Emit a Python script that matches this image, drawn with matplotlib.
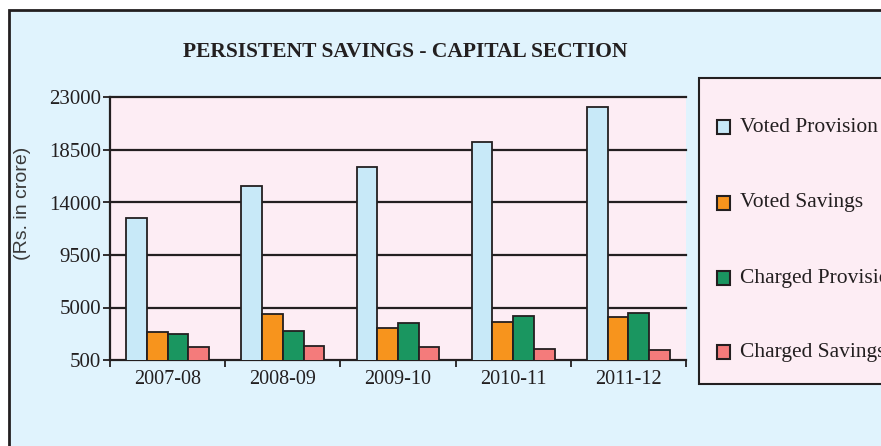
import numpy as np
import matplotlib.pyplot as plt
from matplotlib.patches import Rectangle

# values (Rs. in crore)
years = ['2007-08', '2008-09', '2009-10', '2010-11', '2011-12']
voted_provision = [12650, 15440, 17040, 19150, 22170]
voted_savings = [2920, 4460, 3260, 3750, 4150]
charged_provision = [2690, 2980, 3630, 4230, 4570]
charged_savings = [1610, 1660, 1580, 1410, 1320]
yticks = [500, 5000, 9500, 14000, 18500, 23000]

series = ['Voted Provision', 'Voted Savings', 'Charged Provision', 'Charged Savings']
colors = ['#c8e9f8', '#f7941d', '#1a9660', '#f47b7b']
dark = '#231f20'

plt.rcParams['font.family'] = ['Liberation Serif', 'DejaVu Serif']

fig = plt.figure(figsize=(8.81, 4.46), dpi=100)
fig.patch.set_facecolor('white')

# outer light-blue frame (runs off the right and bottom edges)
W, H = 881, 446
fig.patches.append(Rectangle((9 / W, -0.05), 1.1, 1 - 10 / H + 0.05,
                             transform=fig.transFigure, facecolor='#e0f3fd',
                             edgecolor=dark, linewidth=2, zorder=-2))

# legend box
fig.patches.append(Rectangle((699 / W, 1 - 384 / H), 0.4, (384 - 78) / H,
                             transform=fig.transFigure, facecolor='#fdedf4',
                             edgecolor=dark, linewidth=1.5, zorder=-1))

ax = fig.add_axes([110 / W, 1 - 360 / H, (686 - 110) / W, (360 - 97.5) / H])
ax.set_zorder(1)
ax.set_facecolor('#fdedf4')

x = np.arange(len(years))
w = 0.18
data = [voted_provision, voted_savings, charged_provision, charged_savings]
for i, (vals, c) in enumerate(zip(data, colors)):
    ax.bar(x + (i - 1.5) * w, vals, width=w, color=c, edgecolor=dark,
           linewidth=1.3, zorder=3)

ax.set_xlim(-0.5, len(years) - 0.5)
ax.set_ylim(500, 23000)
ax.set_yticks(yticks)
ax.set_yticklabels([str(t) for t in yticks], fontsize=15, color=dark)
for t in yticks[1:]:
    ax.axhline(t, color=dark, linewidth=1.6, zorder=1, clip_on=False)

ax.set_xticks(np.arange(-0.5, len(years), 1.0))
ax.set_xticklabels([])
ax.set_xticks(x, minor=True)
ax.set_xticklabels(years, minor=True, fontsize=14.5, color=dark)
ax.tick_params(axis='x', which='major', length=5, width=1.3, color=dark, direction='out')
ax.tick_params(axis='x', which='minor', length=0, pad=7)
ax.tick_params(axis='y', length=5, width=1.3, color=dark, pad=1.5)

for s in ['top', 'right']:
    ax.spines[s].set_visible(False)
for s in ['left', 'bottom']:
    ax.spines[s].set_color(dark)
    ax.spines[s].set_linewidth(1.6)

fig.text(405 / W, 1 - 52 / H, 'PERSISTENT SAVINGS - CAPITAL SECTION',
         fontsize=15.5, fontweight='bold', ha='center', va='center', color=dark)
fig.text(23 / W, 1 - 203 / H, '(Rs. in crore)', rotation=90, fontsize=14,
         ha='center', va='center', color='#3a3a3a', family='Liberation Sans')

# legend entries
rows = [127, 203, 278, 352]
for name, c, yy in zip(series, colors, rows):
    fig.patches.append(Rectangle((717 / W, 1 - (yy + 7) / H), 13 / W, 14 / H,
                                 transform=fig.transFigure, facecolor=c,
                                 edgecolor=dark, linewidth=1.5, zorder=2))
    fig.text(740 / W, 1 - yy / H, name, fontsize=15.5, ha='left', va='center',
             color=dark)

fig.savefig('out.png', dpi=100)
